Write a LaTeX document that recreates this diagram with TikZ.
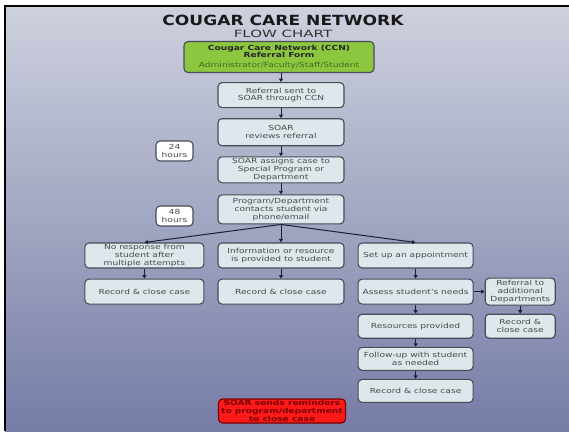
\documentclass[tikz,border=0pt]{standalone}
\usepackage{fontspec}
\setmainfont{DejaVu Sans}
\newfontfamily\boxfont[FakeStretch=1.3]{DejaVu Sans}
\newfontfamily\titlefont[FakeStretch=1.22]{DejaVu Sans}
\newfontfamily\subfont[FakeStretch=1.5]{DejaVu Sans}
\usetikzlibrary{positioning,arrows.meta}
\definecolor{bgtop}{HTML}{CDD1DE}
\definecolor{bgbot}{HTML}{767CA6}
\definecolor{boxfill}{HTML}{DEE7EB}
\definecolor{boxline}{HTML}{474C57}
\definecolor{boxtext}{HTML}{4A4A4A}
\definecolor{ccngreen}{HTML}{8DC63F}
\definecolor{ccntext}{HTML}{3C6E1E}
\definecolor{alertred}{HTML}{FF1A1A}
\definecolor{alerttext}{HTML}{7A0000}
\definecolor{arrowcol}{HTML}{1E1E3A}
\tikzset{stepbox/.style = {draw=boxline, fill=boxfill, rounded corners=4pt, line width=1.1pt, text=boxtext, align=center, minimum height=25pt, inner sep=1pt, font=\boxfont\fontsize{7}{7.8}\selectfont}}
\tikzset{timebox/.style = {stepbox, fill=white, minimum width=37pt, minimum height=20pt}}
\tikzset{ccnbox/.style = {stepbox, fill=ccngreen, text=black!85, minimum width=190pt, minimum height=31pt}}
\tikzset{alertbox/.style = {stepbox, fill=alertred, draw=alerttext, text=alerttext, minimum width=127pt, minimum height=24pt, font=\boxfont\bfseries\fontsize{7}{7.8}\selectfont}}
\tikzset{flow/.style = {->, draw=arrowcol, line width=1pt}}
\begin{document}
\begin{tikzpicture}[x=1pt, y=-1pt, >={Triangle[length=3.5pt,width=4pt]}]
  \useasboundingbox (0,0) rectangle (569,431);
  \fill[white] (0,0) rectangle (569,431);
  \shade[top color=bgtop, bottom color=bgbot] (5,6) rectangle (569,431);
  \draw[line width=2pt] (5,431) -- (5,6) -- (569,6);

  \node[font=\titlefont\bfseries\fontsize{14}{14}\selectfont, text=black!90] (title) at (283,20) {COUGAR CARE NETWORK};
  \node[below=0pt of title, font=\subfont\fontsize{10}{10}\selectfont, text=black!80, inner sep=1pt] (sub) {FLOW CHART};

  \node[ccnbox] (ccn) at (279,57) {{\bfseries Cougar Care Network (CCN)}\\{\bfseries Referral Form}\\[2pt]{\color{ccntext}Administrator/Faculty/Staff/Student}};
  \node[stepbox, minimum width=126pt, below=9pt of ccn, xshift=2pt] (sent) {Referral sent to\\SOAR through CCN};
  \node[stepbox, minimum width=126pt, minimum height=27pt, below=10pt of sent] (reviews) {SOAR\\reviews referral};
  \node[stepbox, minimum width=126pt, minimum height=26pt, below=10pt of reviews] (assigns) {SOAR assigns case to\\Special Program or\\Department};
  \node[stepbox, minimum width=126pt, minimum height=29pt, below=11pt of assigns] (contacts) {Program/Department\\contacts student via\\phone/email};

  \node[timebox] (day) at (174.5,151) {24\\hours};
  \node[timebox] (twoday) at (174.5,216) {48\\hours};

  \node[stepbox, minimum width=126pt, below=18pt of contacts] (info) {Information or resource\\is provided to student};
  \node[stepbox, minimum width=119pt, left=13pt of info] (noresp) {No response from\\student after\\multiple attempts};
  \node[stepbox, minimum width=115pt, right=13pt of info] (appt) {Set up an appointment};

  \node[stepbox, minimum width=119pt, below=10pt of noresp] (noclose) {Record \& close case};
  \node[stepbox, minimum width=126pt, below=10pt of info] (infoclose) {Record \& close case};
  \node[stepbox, minimum width=115pt, below=10pt of appt] (assess) {Assess student's needs};
  \node[stepbox, minimum width=70pt, minimum height=27pt, right=11pt of assess] (referral) {Referral to\\additional\\Departments};
  \node[stepbox, minimum width=70pt, minimum height=24pt, below=8pt of referral] (refclose) {Record \&\\close case};
  \node[stepbox, minimum width=115pt, minimum height=24pt, below=9pt of assess] (resources) {Resources provided};
  \node[stepbox, minimum width=115pt, minimum height=23pt, below=8pt of resources] (followup) {Follow-up with student\\as needed};
  \node[stepbox, minimum width=115pt, minimum height=23pt, below=8pt of followup] (apptclose) {Record \& close case};

  \node[alertbox] (remind) at (282,411) {SOAR sends reminders\\to program/department\\to close case};

  \draw[flow] (sent.north |- ccn.south) -- (sent.north);
  \draw[flow] (sent.south) -- (reviews.north);
  \draw[flow] (reviews.south) -- (assigns.north);
  \draw[flow] (assigns.south) -- (contacts.north);
  \draw[flow] (contacts.south) -- (noresp.north);
  \draw[flow] (contacts.south) -- (info.north);
  \draw[flow] (contacts.south) -- (appt.north);
  \draw[flow] (noresp.south) -- (noclose.north);
  \draw[flow] (info.south) -- (infoclose.north);
  \draw[flow] (appt.south) -- (assess.north);
  \draw[flow] (assess.east) -- (referral.west);
  \draw[flow] (referral.south) -- (refclose.north);
  \draw[flow] (assess.south) -- (resources.north);
  \draw[flow] (resources.south) -- (followup.north);
  \draw[flow] (followup.south) -- (apptclose.north);
\end{tikzpicture}
\end{document}
